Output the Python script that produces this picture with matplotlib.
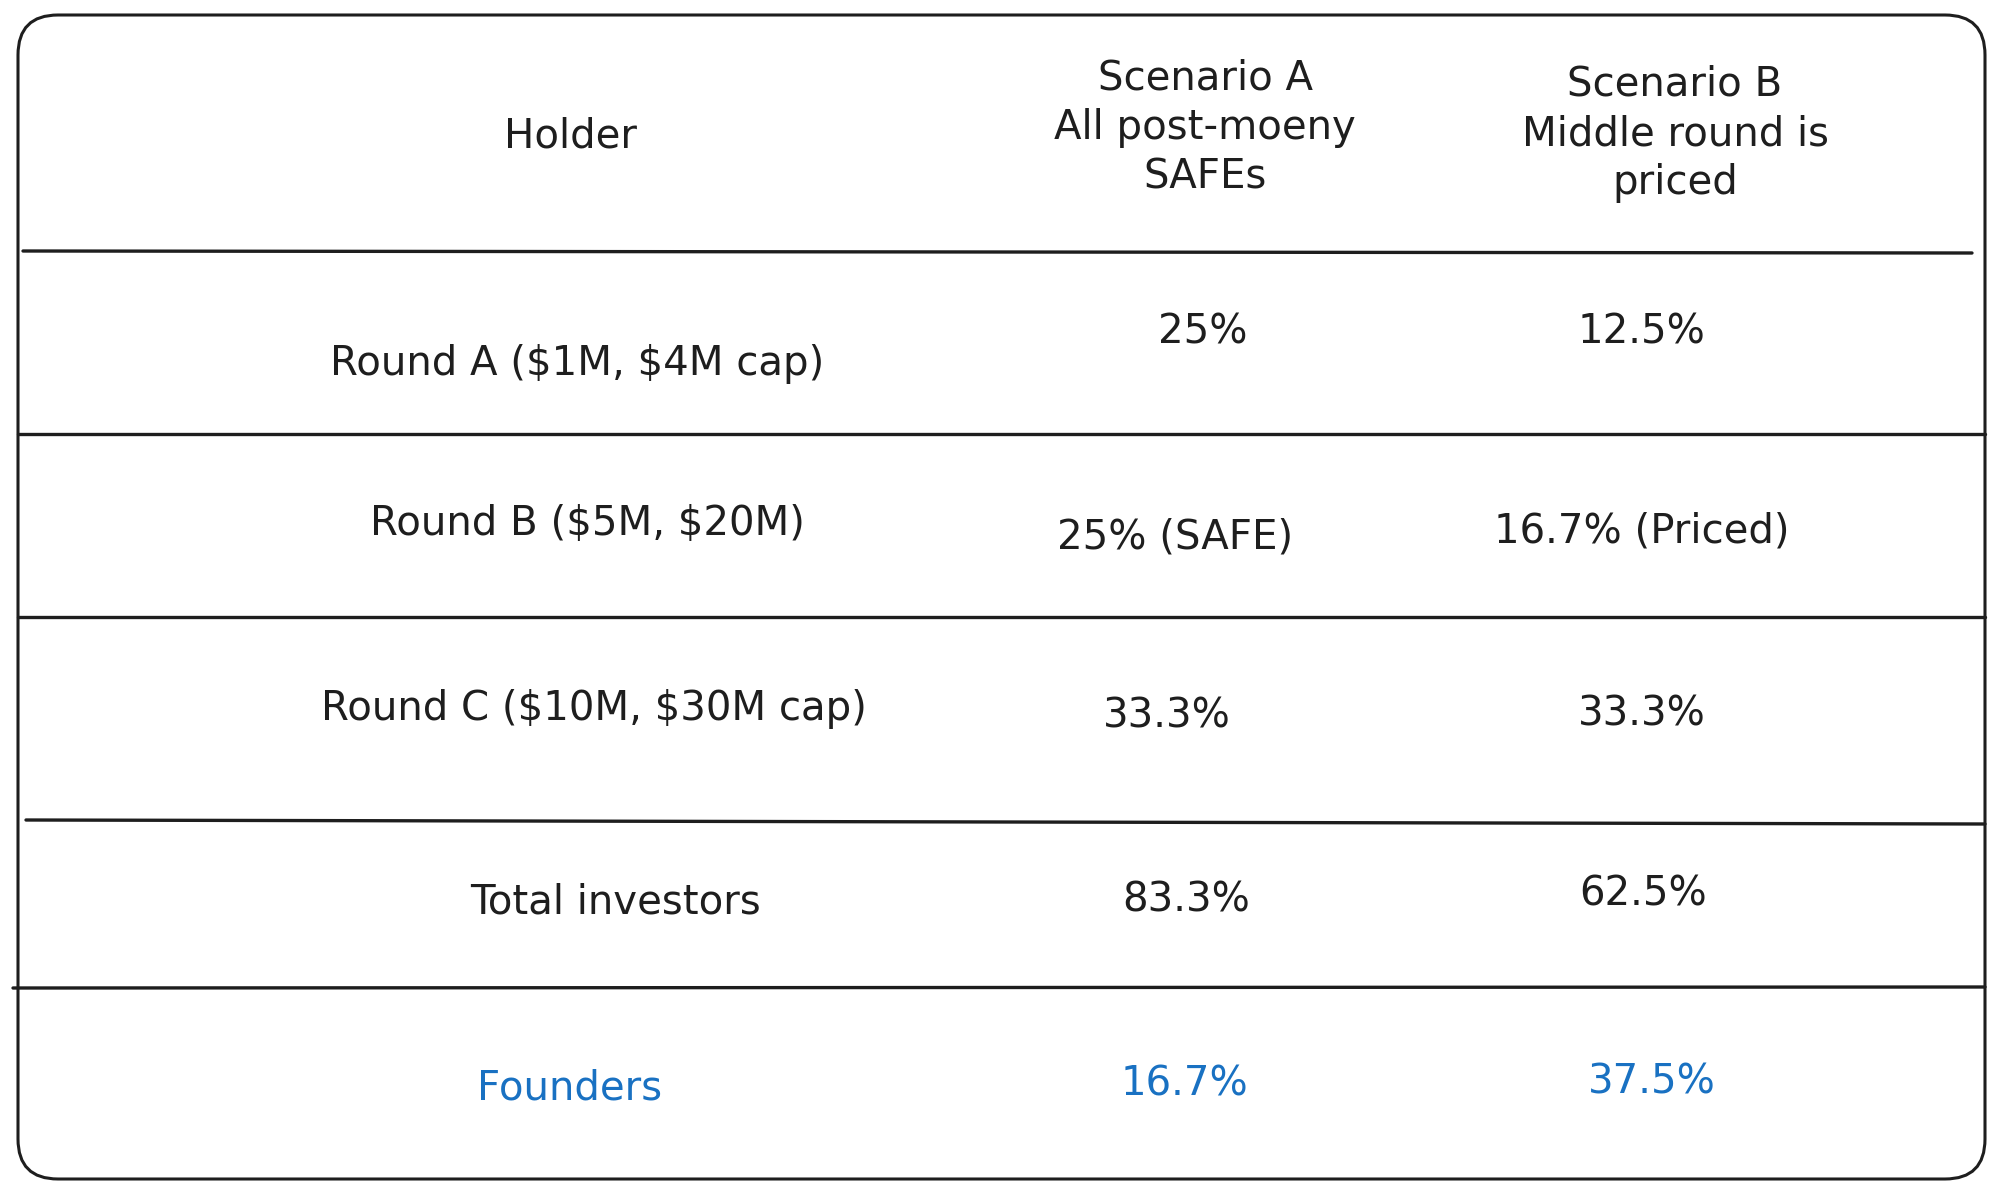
import matplotlib.pyplot as plt
from matplotlib.patches import FancyBboxPatch

holders = ['Round A ($1M, $4M cap)', 'Round B ($5M, $20M)', 'Round C ($10M, $30M cap)',
           'Total investors', 'Founders']
scenario_a = ['25%', '25% (SAFE)', '33.3%', '83.3%', '16.7%']
scenario_b = ['12.5%', '16.7% (Priced)', '33.3%', '62.5%', '37.5%']
headers = ['Holder', 'Scenario A\nAll post-moeny\nSAFEs', 'Scenario B\nMiddle round is\npriced']

# hand placed cell centres (pixels, like the sketch)
col_x = [[570, 1205, 1675], [577, 1203, 1642], [587, 1175, 1642],
         [594, 1167, 1642], [615, 1186, 1643], [570, 1184, 1652]]
row_y = [[136, 128, 134], [364, 333, 333], [524, 538, 532],
         [709, 717, 714], [903, 900, 895], [1088, 1085, 1083]]
# separator lines: (x0, x1, y0, y1)
seps = [(23, 1972, 251, 253), (18, 1985, 434, 434), (18, 1985, 617, 617),
        (26, 1985, 820, 824), (13, 1985, 988, 987)]

ink = '#1e1e1e'
blue = '#1971c2'

fig = plt.figure(figsize=(20, 11.94), dpi=100)
ax = fig.add_axes([0, 0, 1, 1])
ax.set_xlim(0, 2000)
ax.set_ylim(1194, 0)
ax.axis('off')

box = FancyBboxPatch((18, 15), 1967, 1164, boxstyle='round,pad=0,rounding_size=40',
                     fill=False, ec=ink, lw=2.2)
ax.add_patch(box)

for x0, x1, y0, y1 in seps:
    ax.plot([x0, x1], [y0, y1], color=ink, lw=2.4, solid_capstyle='round')

rows = [headers] + [[h, a, b] for h, a, b in zip(holders, scenario_a, scenario_b)]
for i, row in enumerate(rows):
    c = blue if row[0] == 'Founders' else ink
    for j, txt in enumerate(row):
        ax.text(col_x[i][j], row_y[i][j], txt, ha='center', va='center', color=c,
                fontsize=29, family='DejaVu Sans', linespacing=1.3, parse_math=False)

fig.savefig('out.png', dpi=100)
